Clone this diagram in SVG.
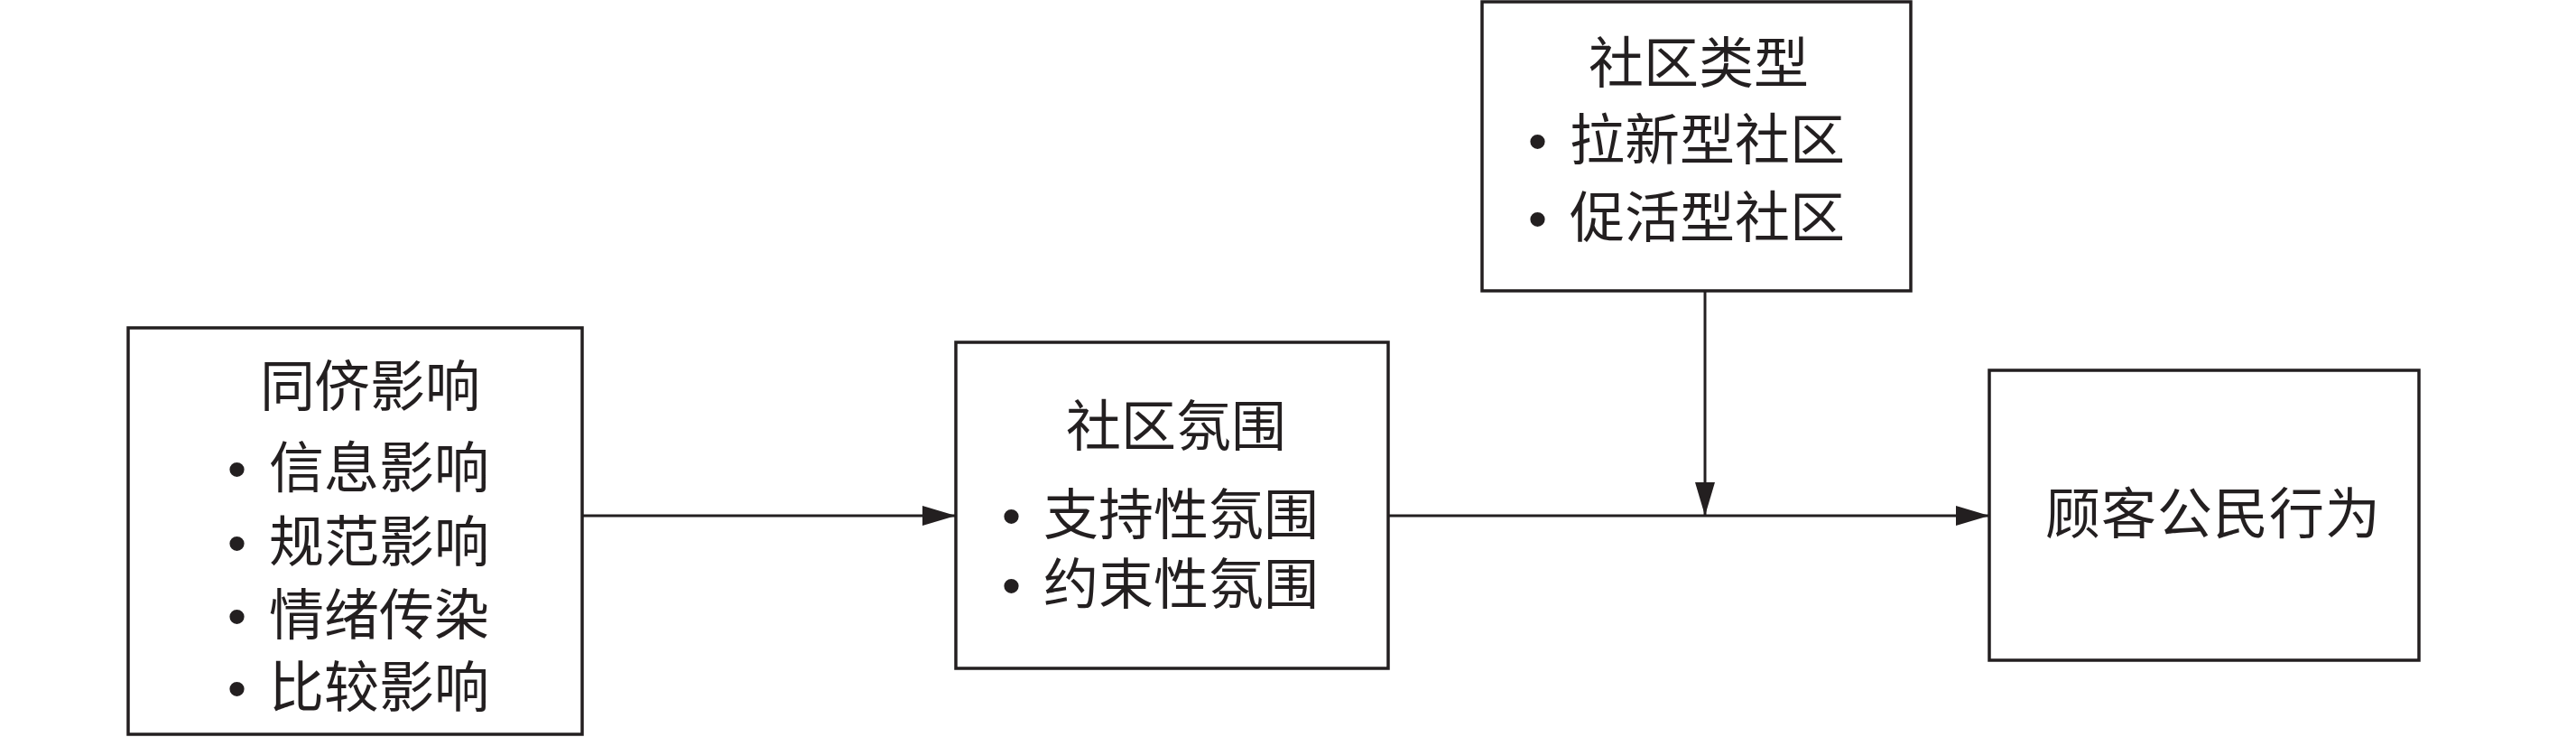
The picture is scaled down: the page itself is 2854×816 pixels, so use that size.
<svg xmlns="http://www.w3.org/2000/svg" width="2854" height="816" viewBox="0 0 2854 816">
<style>
.box{fill:#fff;stroke:#231f20;stroke-width:3.5}
.t{font-family:"Noto Sans CJK SC","Noto Sans",sans-serif;font-size:61px;fill:#231f20}
.b{font-family:"Liberation Sans",Arial,sans-serif;font-size:60px}
.c{stroke:#231f20;stroke-width:3;fill:none}
</style>
<defs>
<marker id="ah" markerUnits="userSpaceOnUse" markerWidth="40" markerHeight="24" refX="37" refY="11" orient="auto">
<path d="M0,0 L37,11 L0,22 Z" fill="#231f20"/>
</marker>
</defs>
<rect width="2854" height="816" fill="#fff"/>
<g id="connectors">
<line class="c" x1="645" y1="571" x2="1059" y2="571" marker-end="url(#ah)"/>
<line class="c" x1="1538" y1="571" x2="2204" y2="571" marker-end="url(#ah)"/>
<line class="c" x1="1889" y1="322" x2="1889" y2="571" marker-end="url(#ah)"/>
</g>
<g id="peer">
<rect class="box" x="142" y="363" width="503" height="450"/>
<text class="t" x="288" y="450">同侪影响</text>
<text class="t" y="540"><tspan class="b" x="252">•</tspan><tspan x="298">信息影响</tspan></text>
<text class="t" y="622"><tspan class="b" x="252">•</tspan><tspan x="298">规范影响</tspan></text>
<text class="t" y="703"><tspan class="b" x="252">•</tspan><tspan x="298">情绪传染</tspan></text>
<text class="t" y="783"><tspan class="b" x="252">•</tspan><tspan x="298">比较影响</tspan></text>
</g>
<g id="atmosphere">
<rect class="box" x="1059" y="379" width="479" height="361"/>
<text class="t" x="1181" y="494">社区氛围</text>
<text class="t" y="592"><tspan class="b" x="1110">•</tspan><tspan x="1156">支持性氛围</tspan></text>
<text class="t" y="669"><tspan class="b" x="1110">•</tspan><tspan x="1156">约束性氛围</tspan></text>
</g>
<g id="type">
<rect class="box" x="1642" y="2" width="475" height="320"/>
<text class="t" x="1760" y="92">社区类型</text>
<text class="t" y="177"><tspan class="b" x="1693">•</tspan><tspan x="1739">拉新型社区</tspan></text>
<text class="t" y="263"><tspan class="b" x="1693">•</tspan><tspan x="1739">促活型社区</tspan></text>
</g>
<g id="behavior">
<rect class="box" x="2204" y="410" width="476" height="321"/>
<text class="t" x="2266" y="591" letter-spacing="1">顾客公民行为</text>
</g>
</svg>
